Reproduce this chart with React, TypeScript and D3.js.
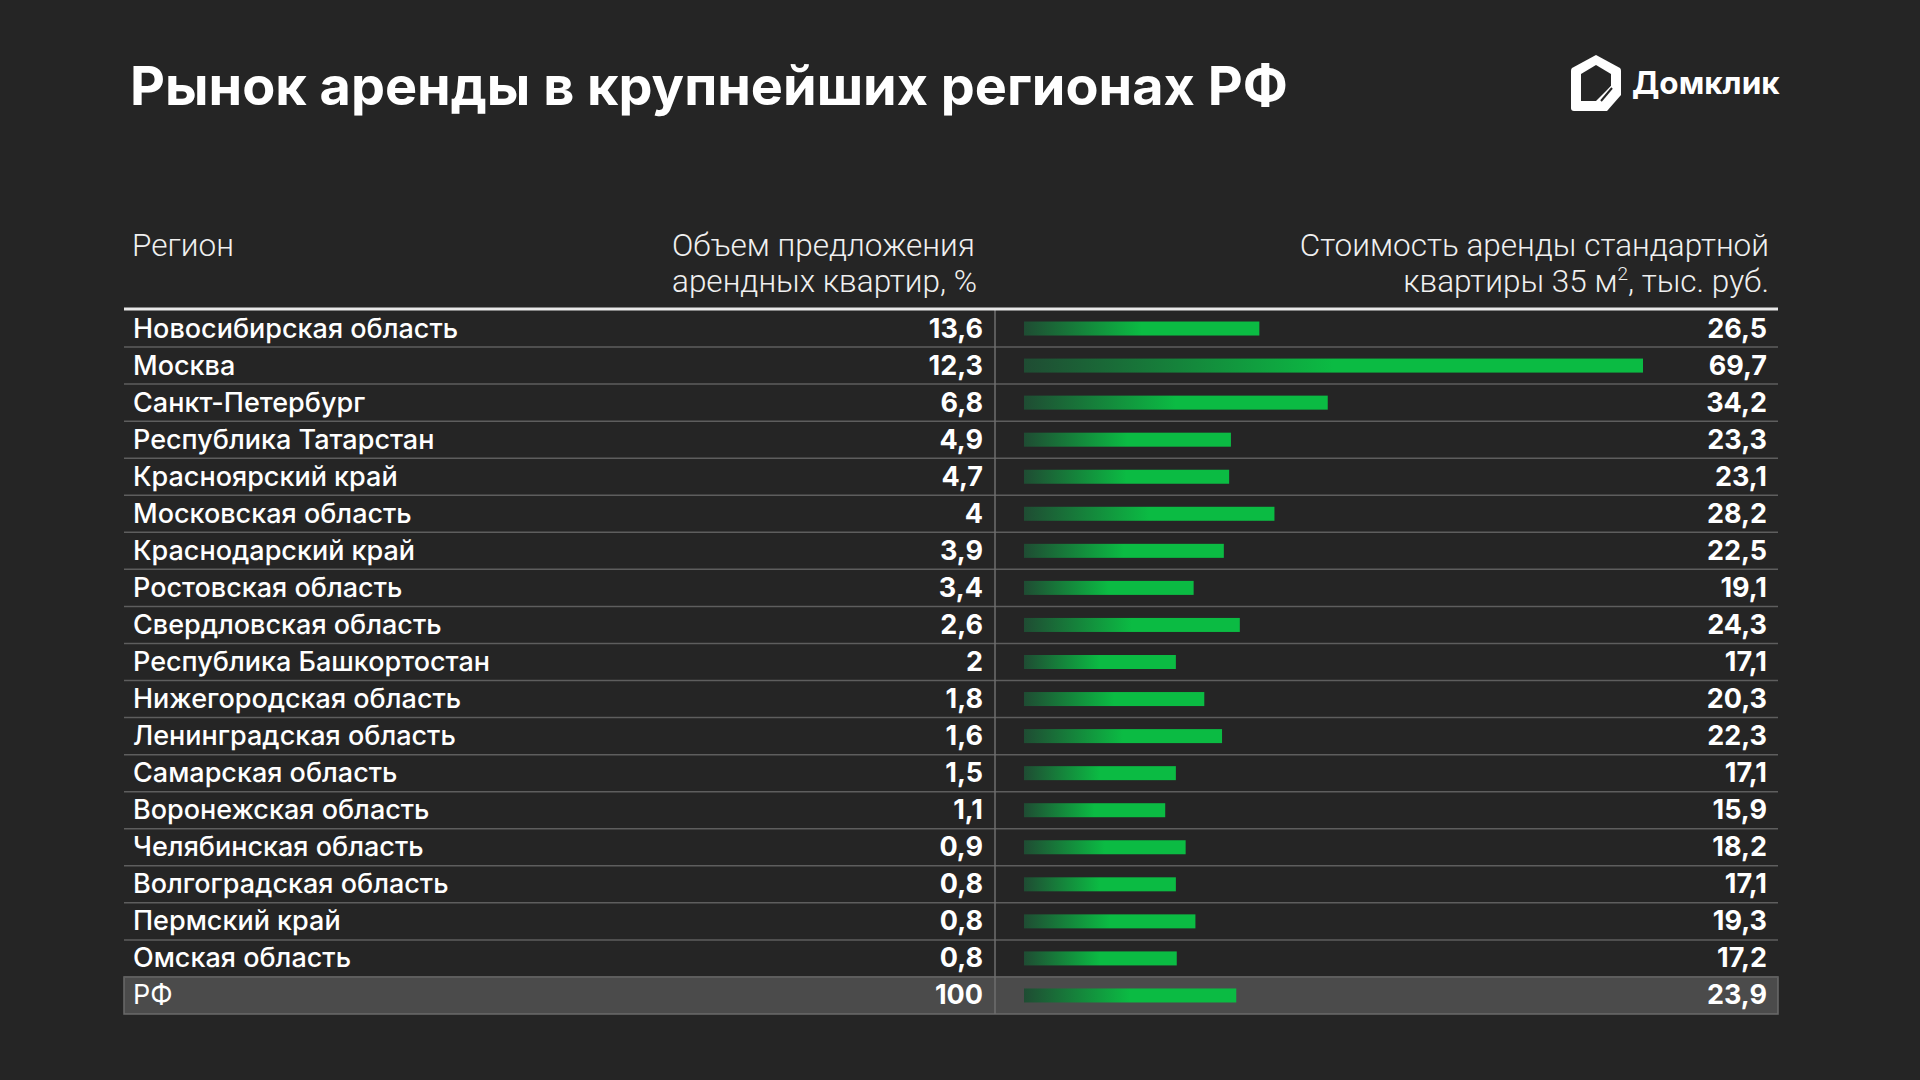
import * as d3 from 'd3'

// --- data ---
const regions = [
  'Новосибирская область', 'Москва', 'Санкт-Петербург', 'Республика Татарстан',
  'Красноярский край', 'Московская область', 'Краснодарский край', 'Ростовская область',
  'Свердловская область', 'Республика Башкортостан', 'Нижегородская область',
  'Ленинградская область', 'Самарская область', 'Воронежская область',
  'Челябинская область', 'Волгоградская область', 'Пермский край', 'Омская область', 'РФ',
]
const supply = [13.6, 12.3, 6.8, 4.9, 4.7, 4, 3.9, 3.4, 2.6, 2, 1.8, 1.6, 1.5, 1.1, 0.9, 0.8, 0.8, 0.8, 100]
const rent = [26.5, 69.7, 34.2, 23.3, 23.1, 28.2, 22.5, 19.1, 24.3, 17.1, 20.3, 22.3, 17.1, 15.9, 18.2, 17.1, 19.3, 17.2, 23.9]

const W = 1920
const H = 1080
const C = {
  bg: '#252525',
  text: '#ffffff',
  head: '#f0f0f0',
  rule: '#e8e8e8',
  sep: '#5e5e5e',
  divider: '#6e6e6e',
  total: '#4b4b4b',
  totalBorder: '#6a6a6a',
  barDark: '#1f4c33',
  barBright: '#0bbb43',
}
const font = 'Inter, "Noto Sans", sans-serif'
const fmt = (v: number) => String(v).replace('.', ',')

export default function App() {
  const left = 124
  const right = 1778
  const y = d3.scaleBand<string>().domain(regions).range([310, 1014]).padding(0)
  const x = d3.scaleLinear().domain([0, 69.7]).range([1024, 1643])
  const barH = 14
  const last = regions[regions.length - 1]

  return (
    <svg width={W} height={H} style={{ position: 'fixed', left: 0, top: 0, background: C.bg }}>
      <defs>
        <linearGradient id="barGrad" x1="0" x2="1" y1="0" y2="0">
          <stop offset="0%" stopColor={C.barDark} />
          <stop offset="50%" stopColor={C.barBright} />
          <stop offset="100%" stopColor={C.barBright} />
        </linearGradient>
      </defs>
      <rect width={W} height={H} fill={C.bg} />

      {/* title */}
      <text x={130} y={105} fill={C.text} fontFamily={font} fontWeight={700} fontSize={54}>
        Рынок аренды в крупнейших регионах РФ
      </text>

      {/* logo */}
      <g transform="translate(1571,55)">
        <path d="M25,0 L49,13 Q50,14 50,16 L50,40 L36,56 L3,56 Q0,56 0,53 L0,16 Q0,14 1,13 Z" fill="#fff" />
        <path d="M25,10 L40,19 L40,31 L25,46 L10,46 L10,19 Z" fill={C.bg} />
        <path d="M40,31 L27,46 L40,46 Z" fill="#fff" />
        <line x1={41} y1={33} x2={30} y2={46} stroke={C.bg} strokeWidth={2} />
      </g>
      <text x={1632} y={94} fill={C.text} fontFamily={font} fontWeight={700} fontSize={31.5}>Домклик</text>

      {/* header */}
      <g fill={C.head} fontFamily="Roboto, sans-serif" fontWeight={300} fontSize={31.5}>
        <text x={132} y={256}>Регион</text>
        <text x={672} y={256}>Объем предложения</text>
        <text x={672} y={292}>арендных квартир, %</text>
        <text x={1769} y={256} textAnchor="end">Стоимость аренды стандартной</text>
        <text x={1769} y={292} textAnchor="end">
          квартиры 35 м<tspan dy={-12} fontSize={19}>2</tspan><tspan dy={12}>, тыс. руб.</tspan>
        </text>
      </g>

      {/* total row background */}
      <rect x={left} y={y(last)} width={right - left} height={y.bandwidth()} fill={C.total} stroke={C.totalBorder} strokeWidth={1.5} />

      {/* separators */}
      {regions.slice(0, -1).map(r => (
        <line key={'s' + r} x1={left} x2={right} y1={(y(r) ?? 0) + y.bandwidth()} y2={(y(r) ?? 0) + y.bandwidth()} stroke={C.sep} strokeWidth={1.5} />
      ))}
      <line x1={995} x2={995} y1={310} y2={1014} stroke={C.divider} strokeWidth={1.5} />
      <line x1={left} x2={right} y1={309} y2={309} stroke={C.rule} strokeWidth={3} />

      {/* rows */}
      {regions.map((r, i) => {
        const cy = (y(r) ?? 0) + y.bandwidth() / 2
        const isTotal = r === last
        return (
          <g key={r}>
            <text x={133} y={cy + 9} fill={C.text} fontFamily={font} fontWeight={isTotal ? 400 : 500} fontSize={27}>{r}</text>
            <text x={983} y={cy + 9} textAnchor="end" fill={C.text} fontFamily={font} fontWeight={700} fontSize={27}>{fmt(supply[i])}</text>
            <rect x={x(0)} y={cy - barH / 2} width={x(rent[i]) - x(0)} height={barH} fill="url(#barGrad)" />
            <text x={1767} y={cy + 9} textAnchor="end" fill={C.text} fontFamily={font} fontWeight={700} fontSize={27}>{fmt(rent[i])}</text>
          </g>
        )
      })}
    </svg>
  )
}
